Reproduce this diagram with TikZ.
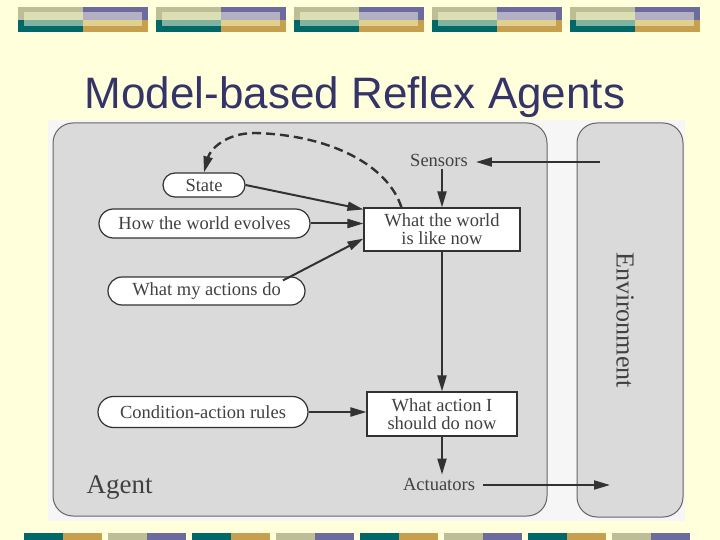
\documentclass[tikz,border=0pt]{standalone}
\usepackage{fontspec}
\setmainfont{Liberation Serif}
\newfontfamily\titlefont{Liberation Sans}
\usetikzlibrary{arrows.meta,shapes.misc,calc}
\definecolor{bg}{RGB}{255,255,220}
\definecolor{olv}{RGB}{189,190,150}
\definecolor{prp}{RGB}{107,107,158}
\definecolor{tea}{RGB}{0,104,104}
\definecolor{gld}{RGB}{198,160,78}
\definecolor{olvL}{RGB}{220,222,180}
\definecolor{prpL}{RGB}{180,176,196}
\definecolor{teaL}{RGB}{128,180,160}
\definecolor{gldL}{RGB}{224,208,144}
\definecolor{ttl}{RGB}{52,52,104}
\definecolor{panel}{RGB}{246,246,246}
\definecolor{boxg}{RGB}{218,218,218}
\definecolor{linec}{RGB}{50,50,50}
\definecolor{txtc}{RGB}{65,65,65}
\begin{document}
\begin{tikzpicture}[x=1pt,y=-1pt,
  txt/.style={font=\fontsize{18.5}{18}\selectfont, text=txtc},
  pill/.style={rounded rectangle, draw=linec, line width=1.2pt, fill=white, txt, inner sep=0pt},
  sqbox/.style={rectangle, draw=linec, line width=1.1pt, fill=white, txt, align=center, inner sep=0pt},
  tip/.style={-{Triangle[length=16pt,width=9pt]}},
  arr/.style={draw=linec, line width=2pt, tip},
  bigbox/.style={draw=linec!75, line width=1pt, fill=boxg, rounded corners=20pt},
]
\useasboundingbox (0,0) rectangle (720,540);
\fill[bg] (0,0) rectangle (720,540);
% top decoration
\foreach \i in {0,...,4}{
  \pgfmathsetmacro{\xo}{18+138*\i}
  \fill[olv] (\xo,7) rectangle (\xo+65,20);
  \fill[prp] (\xo+65,7) rectangle (\xo+130,20);
  \fill[tea] (\xo,20) rectangle (\xo+65,32);
  \fill[gld] (\xo+65,20) rectangle (\xo+130,32);
  \fill[olvL] (\xo+6,12) rectangle (\xo+65,20);
  \fill[prpL] (\xo+65,12) rectangle (\xo+124,20);
  \fill[teaL] (\xo+6,20) rectangle (\xo+65,26);
  \fill[gldL] (\xo+65,20) rectangle (\xo+124,26);
}
% bottom decoration
\foreach \k in {0,2,4,6}{
  \pgfmathsetmacro{\xo}{24+84*\k}
  \fill[tea] (\xo,533) rectangle (\xo+39,540);
  \fill[gld] (\xo+39,533) rectangle (\xo+78,540);
}
\foreach \k in {1,3,5,7}{
  \pgfmathsetmacro{\xo}{24+84*\k}
  \fill[olv] (\xo,533) rectangle (\xo+39,540);
  \fill[prp] (\xo+39,533) rectangle (\xo+78,540);
}
% title
\node[font=\titlefont\fontsize{44}{48}\selectfont, text=ttl, anchor=base] (title) at (355,109) {Model-based Reflex Agents};
% panel
\fill[panel] (48,120) rectangle (685,521);
\path[bigbox] (53,123) rectangle (547,516);
\path[bigbox] (577,123) rectangle (683,517);
% nodes
\node[font=\fontsize{27}{28}\selectfont, text=txtc, anchor=base west] (agent) at (83,493) {Agent};
\node[font=\fontsize{26}{28}\selectfont, text=txtc, rotate=-90] (env) at (625,320) {Environment};
\node[txt, inner xsep=8pt, inner ysep=3pt] (sensors) at (439,160) {Sensors};
\node[txt, inner xsep=8pt, inner ysep=3pt] (actuators) at (439,484) {Actuators};
\node[sqbox, minimum width=156pt, minimum height=43pt] (wbox) at (442,229.5) {What the world\\is like now};
\node[sqbox, minimum width=150pt, minimum height=44pt] (abox) at (442,414) {What action I\\should do now};
\node[pill, minimum width=82pt, minimum height=24pt] (state) at (204,185) {State};
\node[pill, minimum width=211pt, minimum height=29pt] (evolves) at (204.5,223.5) {How the world evolves};
\node[pill, minimum width=197pt, minimum height=28pt] (actions) at (206.5,291) {What my actions do};
\node[pill, minimum width=210pt, minimum height=31pt] (rules) at (203,412) {Condition-action rules};
\coordinate (envS) at (600,162);
\coordinate (envA) at (610,485);
% connectors
\draw[arr] (envS) -- (sensors.east |- envS);
\draw[arr] (sensors.south -| wbox.north) -- (wbox.north);
\draw[arr] (state.east) -- ([yshift=-2pt]wbox.north west);
\draw[arr] (evolves.east) -- (evolves.east -| wbox.west);
\draw[arr] ([xshift=-8pt,yshift=-4pt]actions.north east) -- ([yshift=13pt]wbox.south west);
\draw[arr] (wbox.south) -- (abox.north);
\draw[arr] (rules.east) -- (rules.east -| abox.west);
\draw[arr] (abox.south) -- (actuators.north -| abox.south);
\draw[arr] (actuators.east |- envA) -- (envA);
\draw[draw=linec, line width=2.4pt, dash pattern=on 9pt off 5pt, tip]
  ([xshift=38pt]wbox.north west) .. controls (388,165) and (330,135) .. (255,133)
  .. controls (225,133) and (210,150) .. (state.north);
\end{tikzpicture}
\end{document}
